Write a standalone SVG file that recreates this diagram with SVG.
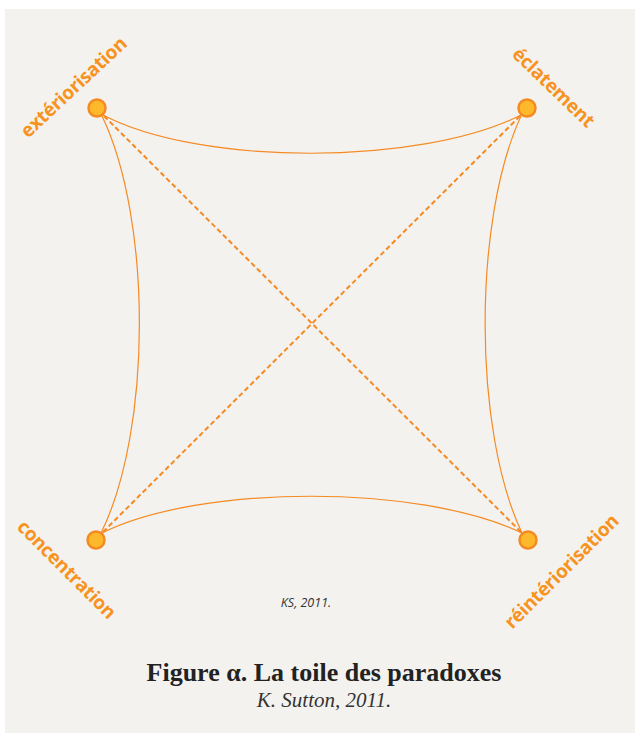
<svg xmlns="http://www.w3.org/2000/svg" width="635" height="733" viewBox="0 0 635 733">
<style>
.lbl{font-family:"Open Sans","Liberation Sans",sans-serif;font-weight:bold;font-size:19px;fill:#f7931e;text-anchor:middle;letter-spacing:-0.3px}
.node circle{fill:#fdb92b;stroke:#f58a23;stroke-width:2.5}
.curve{fill:none;stroke:#f58a23;stroke-width:1.2}
.dash{fill:none;stroke:#f58a23;stroke-width:2;stroke-dasharray:5 3}
</style>
<rect x="0" y="0" width="635" height="733" fill="#ffffff"/>
<rect x="5" y="9" width="630" height="724" fill="#f4f2ef"/>
<g id="connectors">
<path class="curve" d="M103,115 C200,166 420,166 521,115"/>
<path class="curve" d="M102,116 C152,220 152,430 101,533"/>
<path class="curve" d="M521,116 C473,220 473,430 522,533"/>
<path class="curve" d="M102,533 C200,484 420,484 522,533"/>
<path class="dash" d="M104,116 L521,532"/>
<path class="dash" d="M520,116 L103,532"/>
</g>
<g id="n-exteriorisation" class="node">
<circle cx="97" cy="108" r="8.5"/>
<text class="lbl" transform="translate(78,92) rotate(-43)">extériorisation</text>
</g>
<g id="n-eclatement" class="node">
<circle cx="527" cy="108" r="8.5"/>
<text class="lbl" transform="translate(549,92) rotate(44)">éclatement</text>
</g>
<g id="n-concentration" class="node">
<circle cx="96" cy="540" r="8.5"/>
<text class="lbl" transform="translate(62,574) rotate(45)">concentration</text>
</g>
<g id="n-reinteriorisation" class="node">
<circle cx="528" cy="540" r="8.5"/>
<text class="lbl" transform="translate(566,576) rotate(-45)">réintériorisation</text>
</g>
<text x="306" y="607" font-family="'Open Sans','Liberation Sans',sans-serif" font-style="italic" font-size="12.5" fill="#333" text-anchor="middle">KS, 2011.</text>
<text x="324" y="681" font-family="'Liberation Serif',serif" font-weight="bold" font-size="26" fill="#222" text-anchor="middle">Figure α. La toile des paradoxes</text>
<text x="324" y="707" font-family="'Liberation Serif',serif" font-style="italic" font-size="21" fill="#333" text-anchor="middle">K. Sutton, 2011.</text>
</svg>
